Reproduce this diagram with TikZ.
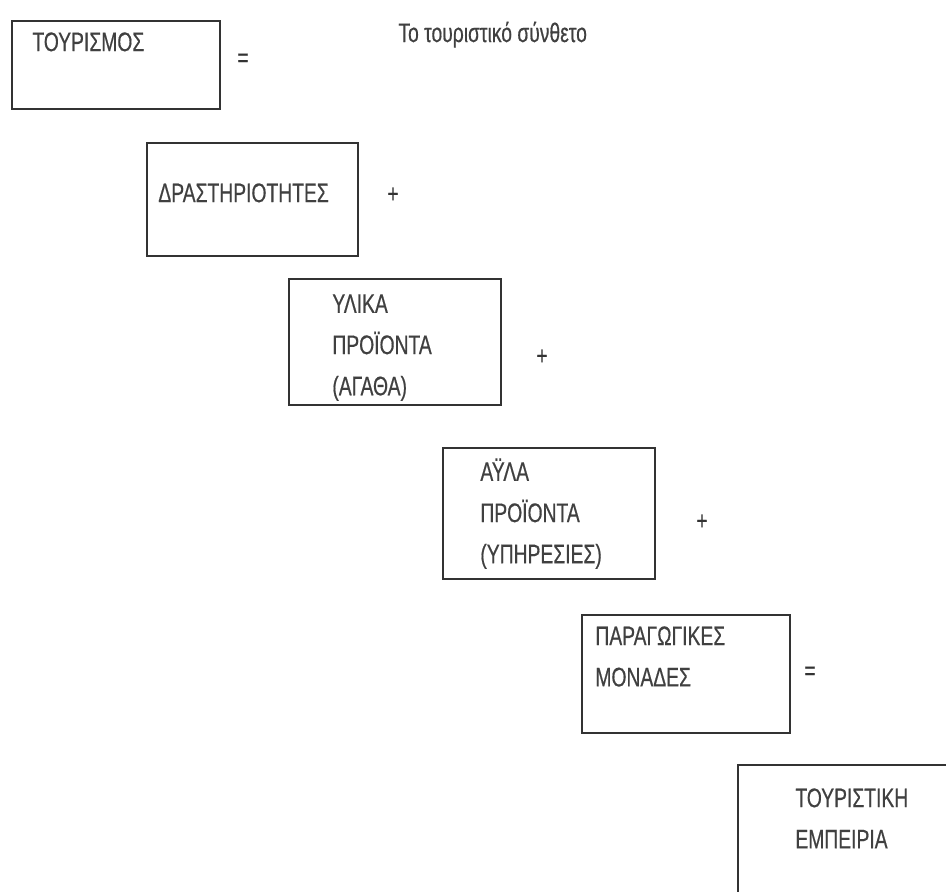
\documentclass[tikz,border=0pt]{standalone}
\usepackage{fontspec}
\setmainfont{Liberation Sans}[FakeStretch=0.72, FakeBold=0.5]
\usepackage{tikz}
\usetikzlibrary{positioning}

\begin{document}
\begin{tikzpicture}[x=0.5pt, y=-0.5pt,
    box/.style={draw=black!80, line width=1.4pt, anchor=north west, inner sep=0pt, outer sep=0pt},
    lbl/.style={align=left, inner sep=0pt, text=black!75, font=\fontsize{13.4}{20.6}\selectfont},
    sign/.style={inner sep=0pt, text=black!80, font=\fontsize{13}{20.5}\selectfont}]
    \useasboundingbox (0,0) rectangle (946,891);

    \node [lbl, anchor=base west] (title) at (398,42) {Το τουριστικό σύνθετο};

    \node [box, minimum width=104pt, minimum height=44pt] (tour) at (12,21) {};
    \node [box, minimum width=105.5pt, minimum height=56.5pt] (act) at (147,143) {};
    \node [box, minimum width=106pt, minimum height=63pt] (goods) at (289,279) {};
    \node [box, minimum width=106pt, minimum height=65.5pt] (serv) at (443,448) {};
    \node [box, minimum width=104pt, minimum height=59pt] (units) at (582,615) {};
    \node [box, minimum width=111pt, minimum height=70pt] (exp) at (738,765) {};

    \node [lbl, below right=5.5pt and 10pt of tour.north west] (tourtxt) {ΤΟΥΡΙΣΜΟΣ};
    \node [lbl, below right=20pt and 5.5pt of act.north west] (acttxt) {ΔΡΑΣΤΗΡΙΟΤΗΤΕΣ};
    \node [lbl, below right=7.5pt and 21.5pt of goods.north west] (goodstxt) {ΥΛΙΚΑ\\ΠΡΟΪΟΝΤΑ\\(ΑΓΑΘΑ)};
    \node [lbl, below right=5pt and 18.5pt of serv.north west] (servtxt) {ΑΫΛΑ\\ΠΡΟΪΟΝΤΑ\\(ΥΠΗΡΕΣΙΕΣ)};
    \node [lbl, below right=5.5pt and 6.5pt of units.north west] (unitstxt) {ΠΑΡΑΓΩΓΙΚΕΣ\\ΜΟΝΑΔΕΣ};
    \node [lbl, below right=11.5pt and 28.5pt of exp.north west] (exptxt) {ΤΟΥΡΙΣΤΙΚΗ\\ΕΜΠΕΙΡΙΑ};

    % signs between the boxes
    \node [sign] (eqa) at (243,60) {=};
    \node [sign] (plusa) at (393,195) {+};
    \node [sign] (plusb) at (542,357) {+};
    \node [sign] (plusc) at (702,522) {+};
    \node [sign] (eqb) at (810,673) {=};
\end{tikzpicture}
\end{document}
